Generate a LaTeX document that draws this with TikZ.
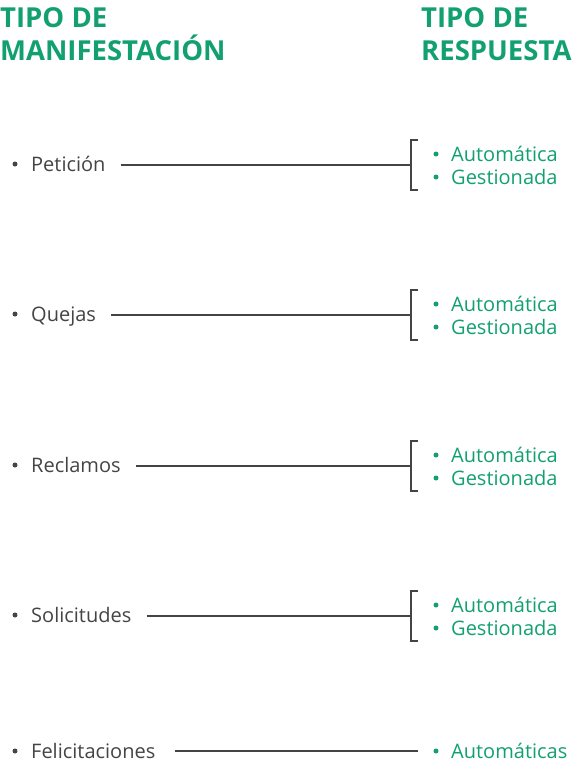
\documentclass[tikz,border=0pt]{standalone}
\usepackage{fontspec}
\setmainfont{Open Sans}
\usepackage{xcolor}
\usetikzlibrary{positioning, calc}
\definecolor{verde}{HTML}{12A070}
\definecolor{gris}{HTML}{444444}

\begin{document}
\begin{tikzpicture}[x=1pt, y=-1pt,
    titulo/.style={font=\bfseries\fontsize{27.5}{33}\selectfont, text=verde, align=left, inner sep=0pt, anchor=base west},
    item/.style={font=\fontsize{20}{22}\selectfont, text=gris, inner sep=0pt, anchor=base west},
    resp/.style={font=\fontsize{20}{22}\selectfont, text=verde, inner sep=0pt, anchor=base west},
    linea/.style={draw=gris, line width=2pt}]
    \useasboundingbox (0,0) rectangle (580,764);
    % encabezados
    \node[titulo] (tman) at (0,60) {TIPO DE\\MANIFESTACIÓN};
    \node[titulo] (tresp) at (421,60) {TIPO DE\\RESPUESTA};
    % filas con dos respuestas
    \foreach \y/\nom/\txt in {164/pet/Petición, 314/que/Quejas, 465/rec/Reclamos, 615/sol/Solicitudes} {
        \fill[gris] (15,\y) circle (2.5);
        \node[item] (\nom) at (31,\y+7) {\txt};
        \coordinate (\nom-b) at (411,\y+1);
        \draw[linea] ($(\nom.east |- \nom-b)+(15,0)$) -- (\nom-b);
        \draw[linea] ($(\nom-b)+(7,-25)$) -- ++(-7,0) -- ++(0,50) -- ++(7,0);
        \fill[verde] (436,\y-10) circle (2.5);
        \fill[verde] (436,\y+13) circle (2.5);
        \node[resp] (\nom-a) at (451,\y-3) {Automática};
        \node[resp] (\nom-g) at (451,\y+20) {Gestionada};
    }
    % ultima fila
    \fill[gris] (15,751) circle (2.5);
    \node[item] (fel) at (31,758) {Felicitaciones};
    \fill[verde] (436,751) circle (2.5);
    \node[resp] (fel-a) at (451,758) {Automáticas};
    \draw[linea] ($(fel.east |- 0,751)+(19,0)$) -- ($(fel-a.west |- 0,751)+(-33,0)$);
\end{tikzpicture}
\end{document}
